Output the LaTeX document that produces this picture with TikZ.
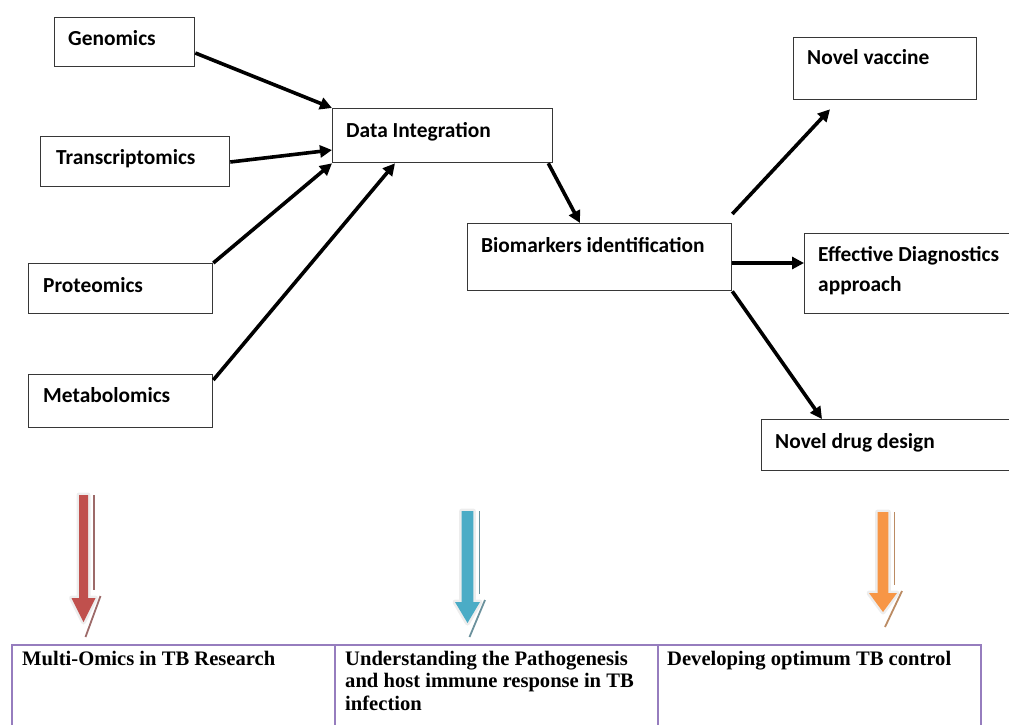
\documentclass[tikz,border=0pt]{standalone}
\usepackage{fontspec}
\setmainfont{Carlito}
\newfontfamily\tabfont{Liberation Serif}
\usetikzlibrary{arrows.meta}
\definecolor{boxline}{RGB}{55,55,55}
\definecolor{tabline}{RGB}{150,125,190}
\definecolor{redA}{RGB}{192,80,77}
\definecolor{blueA}{RGB}{75,172,198}
\definecolor{orangeA}{RGB}{247,150,70}
\newcommand\tbarrow[9]{%
  % #1 colour, #2 cx, #3 top, #4 head start, #5 tip, #6 shaft half width, #7 head half width, #8 shadow colour, #9 shadow tip y
  \draw[black!7, line width=5pt, line join=round]
    (#2-#6,#3) -- (#2+#6,#3) -- (#2+#6,#4) -- (#2+#7,#4) -- (#2,#5) -- (#2-#7,#4) -- (#2-#6,#4) -- cycle;
  \fill[#1]
    (#2-#6,#3) -- (#2+#6,#3) -- (#2+#6,#4) -- (#2+#7,#4) -- (#2,#5) -- (#2-#7,#4) -- (#2-#6,#4) -- cycle;
  \draw[#8, line width=1.6pt] (#2+#6+6,#3) -- (#2+#6+6,#4-8);
  \draw[#8, line width=1.8pt] (#2+#7+5,#4-2) -- (#2+2,#9);
}
\begin{document}
\begin{tikzpicture}[x=1pt,y=-1pt,
  box/.style={draw=boxline, line width=1.3pt, inner sep=0pt, anchor=north west},
  lbl/.style={anchor=base west, inner sep=0pt, align=left, font=\bfseries\fontsize{21.4}{30}\selectfont},
  cell/.style={draw=tabline, line width=1.8pt, inner sep=0pt, anchor=north west, minimum width=323pt, minimum height=110pt},
  tlbl/.style={anchor=base west, inner sep=0pt, align=left, font=\tabfont\bfseries\fontsize{20.6}{22.5}\selectfont},
  arr/.style={line width=3.6pt, -{Triangle[length=12pt,width=12pt]}}
]
\useasboundingbox (0,0) rectangle (1009,725);
\clip (0,0) rectangle (1009,725);

% boxes
\node (gen) [box, minimum width=140pt, minimum height=49pt] at (54,17) {};
\node (tra) [box, minimum width=189pt, minimum height=50pt] at (40,136) {};
\node (pro) [box, minimum width=184pt, minimum height=50pt] at (28,263) {};
\node (met) [box, minimum width=184pt, minimum height=53pt] at (28,374) {};
\node (di)  [box, minimum width=220pt, minimum height=54pt] at (332,108) {};
\node (bio) [box, minimum width=264pt, minimum height=67pt] at (467,223) {};
\node (vac) [box, minimum width=183pt, minimum height=62pt] at (793,37) {};
\node (dia) [box, minimum width=230pt, minimum height=80pt] at (804,233) {};
\node (drug)[box, minimum width=270pt, minimum height=51pt] at (761,419) {};

% labels
\node (gen-t) [lbl] at ([shift={(14,29)}]gen.north west) {Genomics};
\node (tra-t) [lbl] at ([shift={(16,28)}]tra.north west) {Transcriptomics};
\node (pro-t) [lbl] at ([shift={(15,29)}]pro.north west) {Proteomics};
\node (met-t) [lbl] at ([shift={(15,28)}]met.north west) {Metabolomics};
\node (di-t)  [lbl] at ([shift={(14,29)}]di.north west) {Data Integration};
\node (bio-t) [lbl] at ([shift={(14,29)}]bio.north west) {Biomarkers identification};
\node (vac-t) [lbl] at ([shift={(14,28)}]vac.north west) {Novel vaccine};
\node (dia-t) [lbl] at ([shift={(14,58)}]dia.north west) {Effective Diagnostics\\approach};
\node (drug-t)[lbl] at ([shift={(14,29)}]drug.north west) {Novel drug design};

% connectors
\draw[arr] ([yshift=-36pt]gen.north east) -- (di.north west);
\draw[arr] ([yshift=-26pt]tra.north east) -- ([yshift=-42pt]di.north west);
\draw[arr] (pro.north east) -- (di.south west);
\draw[arr] ([yshift=-6pt]met.north east) -- ([xshift=63pt]di.south west);
\draw[arr] ([xshift=-5pt]di.south east) -- ([xshift=113pt]bio.north west);
\draw[arr] ([yshift=9pt]bio.north east) -- ([xshift=37pt,yshift=-9pt]vac.south west);
\draw[arr] ([yshift=-40pt]bio.north east) -- ([yshift=-30pt]dia.north west);
\draw[arr] (bio.south east) -- ([xshift=61pt]drug.north west);

% block arrows
\tbarrow{redA}{83.5}{495}{598}{622}{4.5}{12}{redA!45!gray}{637}
\tbarrow{blueA}{467.5}{511}{602}{623}{5.8}{12.5}{blueA!40!gray}{637}
\tbarrow{orangeA}{883}{512}{593}{612}{5.3}{14}{orangeA!50!gray}{627}

% table
\node (c1) [cell] at (11,644) {};
\node (c2) [cell] at (334,644) {};
\node (c3) [cell] at (657,644) {};
\node (c1-t) [tlbl] at ([shift={(11,21)}]c1.north west) {Multi-Omics in TB Research};
\node (c2-t) [tlbl] at ([shift={(11,66)}]c2.north west) {Understanding the Pathogenesis\\and host immune response in TB\\infection};
\node (c3-t) [tlbl] at ([shift={(10,21)}]c3.north west) {Developing optimum TB control};
\end{tikzpicture}
\end{document}
